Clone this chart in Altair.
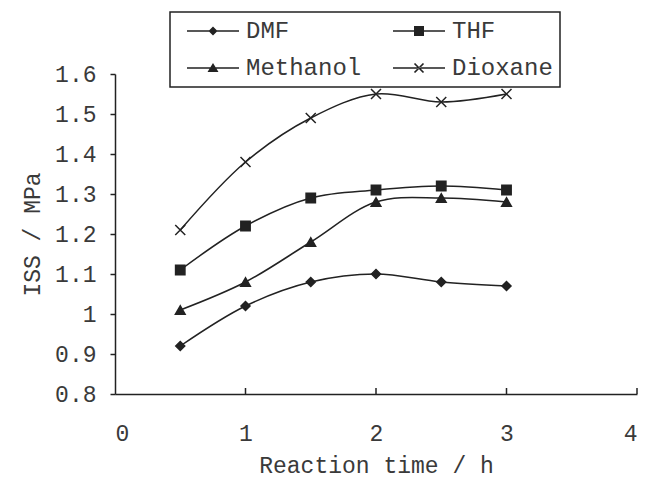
import altair as alt
import pandas as pd

# ---- data ----
times = [0.5, 1.0, 1.5, 2.0, 2.5, 3.0]
dmf = [0.92, 1.02, 1.08, 1.10, 1.08, 1.07]
thf = [1.11, 1.22, 1.29, 1.31, 1.32, 1.31]
methanol = [1.01, 1.08, 1.18, 1.28, 1.29, 1.28]
dioxane = [1.21, 1.38, 1.49, 1.55, 1.53, 1.55]
series_names = ["DMF", "THF", "Methanol", "Dioxane"]
x_ticks = [0, 1, 2, 3, 4]
y_ticks = [0.8, 0.9, 1.0, 1.1, 1.2, 1.3, 1.4, 1.5, 1.6]

rows = []
for name, vals in zip(series_names, [dmf, thf, methanol, dioxane]):
    for t, v in zip(times, vals):
        rows.append({"series": name, "time": t, "iss": v})
df = pd.DataFrame(rows)
tick_df = pd.DataFrame({"time": x_ticks[1:]})

# legend entries (last one padded with no-break spaces to widen the legend box)
legend_names = ["DMF", "THF", "Methanol", "Dioxane\u00a0\u00a0"]

W, H = 522, 320
FONT = "Liberation Mono"
INK = "#222222"
TEXT = "#3a3a3a"

xs = alt.Scale(domain=[0, 4], nice=False, zero=False)
ys = alt.Scale(domain=[0.8, 1.6], nice=False, zero=False)
x = alt.X("time:Q", scale=xs,
          axis=alt.Axis(values=x_ticks, title="Reaction time / h", ticks=False,
                        labelPadding=28, titlePadding=9, format="d"))
y = alt.Y("iss:Q", scale=ys,
          axis=alt.Axis(values=y_ticks, title="ISS / MPa", format=".1~f",
                        tickSize=5, labelPadding=14, titlePadding=10))

base = alt.Chart(df)

lines = base.mark_line(interpolate="catmull-rom", color=INK, strokeWidth=1.5).encode(
    x=x, y=y, detail="series:N"
)

point_shapes = ["diamond", "square", "triangle-up", "M-1,-1L1,1M-1,1L1,-1"]
point_sizes = [81, 100, 90, 81]
points = base.mark_point(fill=INK, stroke=INK, strokeWidth=1.5, opacity=1).encode(
    x=x, y=y,
    shape=alt.Shape("series:N", scale=alt.Scale(domain=series_names, range=point_shapes), legend=None),
    size=alt.Size("series:O", scale=alt.Scale(domain=series_names, range=point_sizes), legend=None),
)

xticks = alt.Chart(tick_df).mark_rule(color=INK, strokeWidth=1.5).encode(
    x=x, y=alt.value(H), y2=alt.value(H - 6)
)

# legend symbols: a line with its marker, drawn as filled paths (unit = 5px for size 100)
LINE = "M-0.4,-0.15L10,-0.15L10,0.15L-0.4,0.15Z"
legend_paths = [
    LINE + "M4.8,-0.9L5.7,0L4.8,0.9L3.9,0Z",
    LINE + "M3.8,-1L5.8,-1L5.8,1L3.8,1Z",
    LINE + "M4.8,-1L5.9,0.8L3.7,0.8Z",
    LINE + "M4.02,-1.02L5.82,0.78L5.58,1.02L3.78,-0.78Z"
           "M4.02,1.02L5.82,-0.78L5.58,-1.02L3.78,0.78Z",
]
legend_layer = base.transform_filter("false").mark_point(
    filled=True, fill=INK, size=100, opacity=1
).encode(
    shape=alt.Shape(
        "series:N",
        scale=alt.Scale(domain=legend_names, range=legend_paths),
        legend=alt.Legend(
            title=None, orient="none", legendX=55, legendY=-62, columns=2,
            direction="horizontal",
            padding=7, rowPadding=13, columnPadding=21, labelOffset=45,
            labelFont=FONT, labelFontSize=24, labelColor=TEXT,
            strokeColor=INK, fillColor="white",
            symbolSize=100, symbolStrokeWidth=0, symbolFillColor=INK,
            symbolOpacity=1,
        ),
    )
)

chart = alt.layer(lines, points, xticks, legend_layer).resolve_scale(
    shape="independent"
).properties(
    width=W, height=H,
    autosize=alt.AutoSizeParams(type="none"),
    padding={"left": 107, "top": 66, "right": 7, "bottom": 86},
).configure_view(stroke=None).configure_axis(
    grid=False, domainColor=INK, domainWidth=1.5, tickColor=INK, tickWidth=1.5,
    labelFont=FONT, labelFontSize=23, labelColor=TEXT,
    titleFont=FONT, titleFontSize=23, titleColor=TEXT, titleFontWeight="normal",
).configure_legend(strokeWidth=1.5)

chart.save("out.html", embed_options={"renderer": "svg", "actions": False})
